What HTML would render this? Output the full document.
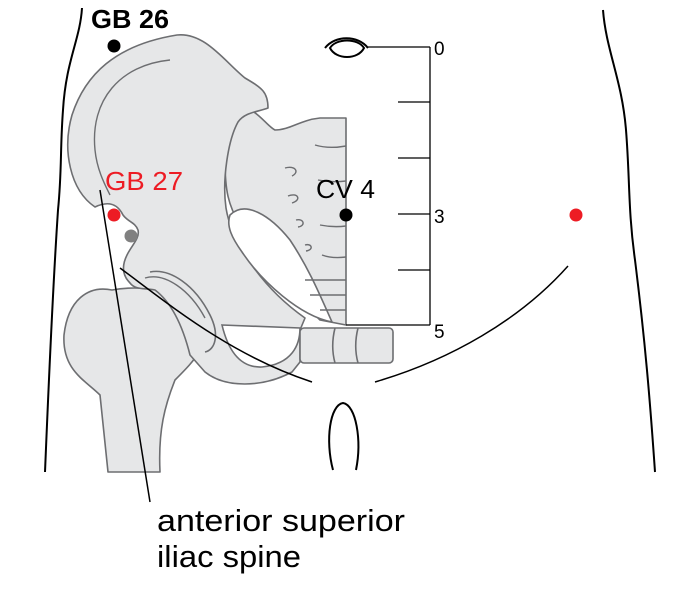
<!DOCTYPE html>
<html><head><style>
html,body{margin:0;padding:0;background:#fff;}
svg{display:block;}
</style></head><body>
<svg width="680" height="592" viewBox="0 0 680 592" xmlns="http://www.w3.org/2000/svg">
<g fill="#e6e7e8" stroke="#6d6e71" stroke-width="1.6" stroke-linejoin="round">
  <path d="M112,290 C88,285 68,300 64,335 C62,370 85,380 100,395 L108,472 L160,472 C158,430 165,405 175,380 C185,370 195,360 200,350 L185,300 C170,290 140,285 112,290 Z"/>
  <path d="M346,118 L320,118 C300,120 290,130 275,130 C265,125 255,105 240,110 C228,118 224,135 225,160 C225,190 228,205 240,225 C260,260 290,290 320,320 L346,325 Z"/>
  <path d="M95,207 C70,190 62,150 72,115 C85,75 115,45 177,35 C205,32 225,62 245,78 C262,88 268,92 268,108 C258,112 245,112 238,122 C228,140 222,180 226,208 C232,245 265,290 305,318 L300,330 L300,362 L292,372 C262,388 225,388 205,372 L190,355 C185,335 175,305 155,290 C145,288 135,290 130,283 C122,275 122,265 127,255 C132,245 140,238 138,230 C135,222 128,222 123,215 C118,205 110,200 95,207 Z"/>
</g>
<path d="M150,272 C170,268 195,285 210,315 C220,335 215,350 205,352" fill="none" stroke="#6d6e71" stroke-width="1.6"/>
<path d="M145,278 C165,272 190,290 205,318" fill="none" stroke="#6d6e71" stroke-width="1.4"/>
<path d="M230,215 C245,200 270,215 290,240 C310,270 322,300 332,322 C300,316 262,282 242,252 C232,238 226,226 230,215 Z" fill="#fff" stroke="#6d6e71" stroke-width="1.6"/>
<path d="M222,325 L300,328 C300,345 292,364 262,367 C240,368 228,350 222,325 Z" fill="#fff" stroke="#6d6e71" stroke-width="1.6"/>
<path d="M170,60 C120,65 90,100 95,150 C97,170 105,185 110,195" fill="none" stroke="#6d6e71" stroke-width="1.4"/>
<g fill="none" stroke="#6d6e71" stroke-width="1.4">
  <path d="M315,145 C325,148 335,148 346,146"/>
  <path d="M318,180 C328,182 338,182 346,181"/>
  <path d="M320,225 C330,227 338,227 346,226"/>
  <path d="M322,255 C330,258 338,258 346,257"/>
  <path d="M285,168 C295,165 300,172 292,176"/>
  <path d="M288,196 C298,192 302,200 292,203"/>
  <path d="M296,220 C304,218 306,226 298,227"/>
  <path d="M305,245 C312,243 314,250 306,251"/>
  <path d="M305,280 L346,280 M310,295 L346,295 M320,310 L346,310"/>
</g>
<g fill="#e6e7e8" stroke="#6d6e71" stroke-width="1.6">
  <rect x="300" y="328" width="93" height="35" rx="4"/>
  <path d="M335,328 C332,340 332,352 335,363 M358,328 C355,340 355,352 358,363" fill="none"/>
</g>
<g fill="none" stroke="#000" stroke-width="2">
  <path d="M82,8 C80,40 66,60 63,110 C60,150 62,170 58,210 C52,300 48,400 45,472"/>
  <path d="M603,10 C606,50 622,80 626,130 C630,180 628,210 635,260 C645,340 650,400 655,472"/>
  <path d="M333,470 C325,440 330,405 343,403 C356,405 362,440 356,470"/>
  <path d="M330,48 C336,38 358,38 364,48 C358,60 336,60 330,48 Z M325,48 C335,35 358,35 368,48"/>
</g>
<g fill="none" stroke="#000" stroke-width="1.5">
  <path d="M120,268 C170,305 230,355 312,382"/>
  <path d="M375,382 C450,360 520,320 568,266"/>
  <path d="M100,190 L150,502"/>
</g>
<g stroke="#000" stroke-width="1.3">
  <line x1="430" y1="47" x2="430" y2="325"/>
  <line x1="368" y1="47" x2="430" y2="47"/>
  <line x1="398" y1="102" x2="430" y2="102"/>
  <line x1="398" y1="158" x2="430" y2="158"/>
  <line x1="398" y1="214" x2="430" y2="214"/>
  <line x1="398" y1="270" x2="430" y2="270"/>
  <line x1="346" y1="325" x2="430" y2="325"/>
</g>
<g font-family="Liberation Sans, sans-serif" font-size="19" fill="#000">
  <text x="434" y="55">0</text>
  <text x="434" y="223">3</text>
  <text x="434" y="338">5</text>
</g>
<circle cx="114" cy="46" r="6.5" fill="#000"/>
<circle cx="114" cy="215" r="6.5" fill="#ed1c24"/>
<circle cx="131" cy="236" r="6.5" fill="#808080"/>
<circle cx="346" cy="215" r="6.5" fill="#000"/>
<circle cx="576" cy="215" r="6.5" fill="#ed1c24"/>
<g font-family="Liberation Sans, sans-serif" font-size="26">
  <text x="91" y="28" font-weight="bold" fill="#000" textLength="78" lengthAdjust="spacingAndGlyphs">GB 26</text>
  <text x="105" y="190" fill="#ed1c24" textLength="78" lengthAdjust="spacingAndGlyphs">GB 27</text>
  <text x="316" y="198" fill="#000" textLength="59" lengthAdjust="spacingAndGlyphs">CV 4</text>
</g>
<g font-family="Liberation Sans, sans-serif" font-size="31" fill="#000">
  <text x="157" y="531" textLength="248" lengthAdjust="spacingAndGlyphs">anterior superior</text>
  <text x="157" y="567" textLength="144" lengthAdjust="spacingAndGlyphs">iliac spine</text>
</g>
</svg>
</body></html>
